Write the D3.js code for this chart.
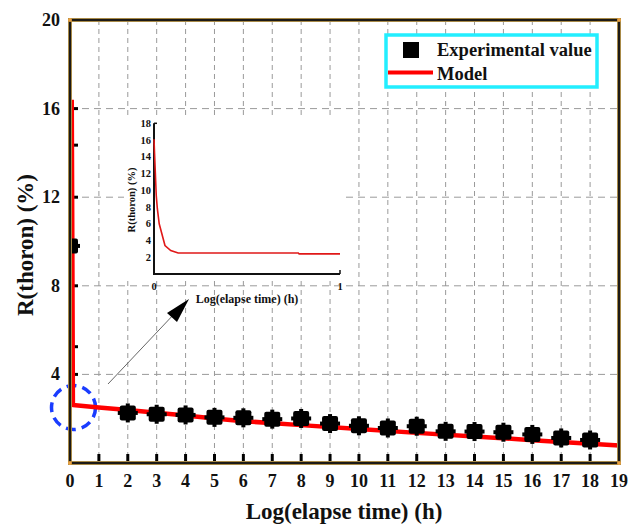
<!DOCTYPE html>
<html>
<head>
<meta charset="utf-8">
<script src="https://cdn.jsdelivr.net/npm/d3@7"></script>
<style>
  body { margin: 0; background: #fff; }
</style>
</head>
<body>
<div id="chart"></div>
<script>
// main.js

const width = 638;
const height = 528;
const serif = "'Liberation Serif', 'Times New Roman', Times, 'DejaVu Serif', serif";

// experimental points
const expX = [0, 2, 3, 4, 5, 6, 7, 8, 9, 10, 11, 12, 13, 14, 15, 16, 17, 18];
const expY = [9.8, 2.26, 2.2, 2.17, 2.06, 2.04, 1.98, 2.01, 1.78, 1.68, 1.58, 1.66, 1.43, 1.42, 1.39, 1.29, 1.13, 1.04];

// model curve
const modelX = [0.06, 0.08, 0.1, 1, 2, 3, 4, 5, 6, 8, 10, 12, 14, 16, 18, 19];
const modelY = [16.4, 10, 2.62, 2.51, 2.39, 2.27, 2.14, 2.01, 1.89, 1.71, 1.53, 1.36, 1.2, 1.03, 0.87, 0.79];

// inset curve (zoom of 0..1)
const insetX = [0, 0.003, 0.012, 0.018, 0.028, 0.059, 0.09, 0.13, 0.776, 0.78, 1];
const insetY = [16.1, 14.4, 9.4, 7.8, 6.0, 3.4, 2.8, 2.5, 2.5, 2.4, 2.4];

const xTicks = d3.range(0, 20);
const yTicks = [4, 8, 12, 16, 20];
const yMinor = [5.25, 14.35];
const insetYTicks = [2, 4, 6, 8, 10, 12, 14, 16, 18];

const svg = d3.select("#chart").append("svg")
    .attr("width", width)
    .attr("height", height)
    .attr("font-family", serif)
    .attr("font-weight", "bold")
    .style("font-family", serif)
    .style("display", "block");

const x = d3.scaleLinear().domain([0, 19]).range([70, 619]);
const y = d3.scaleLinear().domain([0, 20]).range([463, 20]);

svg.append("defs").append("clipPath")
    .attr("id", "plot-clip")
    .append("rect")
    .attr("x", 70).attr("y", 20)
    .attr("width", 549).attr("height", 443);

// grid
svg.append("g")
    .selectAll("line")
    .data(xTicks.filter(d => d > 0))
    .join("line")
    .attr("x1", d => x(d)).attr("x2", d => x(d))
    .attr("y1", y(20)).attr("y2", y(0))
    .attr("stroke", "#9a9a9a")
    .attr("stroke-dasharray", "5,4");

svg.append("g")
    .selectAll("line")
    .data([4, 8, 12, 16])
    .join("line")
    .attr("x1", x(0)).attr("x2", x(19))
    .attr("y1", d => y(d)).attr("y2", d => y(d))
    .attr("stroke", "#9a9a9a")
    .attr("stroke-dasharray", "7,5");

// ticks inward
svg.append("g")
    .selectAll("line")
    .data(xTicks.filter(d => d > 0))
    .join("line")
    .attr("x1", d => x(d)).attr("x2", d => x(d))
    .attr("y1", y(0) - 9).attr("y2", y(0))
    .attr("stroke", "#000")
    .attr("stroke-width", 3);

svg.append("g")
    .selectAll("line")
    .data(yTicks.filter(d => d < 20).concat(yMinor))
    .join("line")
    .attr("x1", x(0)).attr("x2", x(0) + 8)
    .attr("y1", d => y(d)).attr("y2", d => y(d))
    .attr("stroke", "#000")
    .attr("stroke-width", 3);

// inset
const xi = d3.scaleLinear().domain([0, 1]).range([154, 340]);
const yi = d3.scaleLinear().domain([0, 18]).range([274, 123.3]);

const inset = svg.append("g").attr("id", "inset");

inset.append("rect")
    .attr("x", 124).attr("y", 116)
    .attr("width", 220).attr("height", 163)
    .attr("fill", "#fff");

inset.append("path")
    .attr("d", `M${xi(0)},${yi(18)}V${yi(0)}H${xi(1)}`)
    .attr("fill", "none")
    .attr("stroke", "#111")
    .attr("stroke-width", 2);

inset.append("line")
    .attr("x1", xi(1)).attr("x2", xi(1))
    .attr("y1", yi(0)).attr("y2", yi(0) - 4)
    .attr("stroke", "#111").attr("stroke-width", 1.5);

inset.append("line")
    .attr("x1", xi(0)).attr("x2", xi(0) + 3)
    .attr("y1", yi(18)).attr("y2", yi(18))
    .attr("stroke", "#111").attr("stroke-width", 1.5);

inset.append("g")
    .selectAll("text")
    .data(insetYTicks)
    .join("text")
    .attr("x", xi(0) - 3)
    .attr("y", d => yi(d) + 3.5)
    .attr("text-anchor", "end")
    .style("font-size", "10.5px")
    .text(d => d);

inset.append("g")
    .selectAll("text")
    .data([0, 1])
    .join("text")
    .attr("x", d => xi(d))
    .attr("y", 290)
    .attr("text-anchor", "middle")
    .style("font-size", "10.5px")
    .text(d => d);

inset.append("text")
    .attr("x", 247)
    .attr("y", 303)
    .attr("text-anchor", "middle")
    .style("font-size", "12px")
    .text("Log(elapse time) (h)");

inset.append("text")
    .attr("transform", "translate(135,200) rotate(-90)")
    .attr("text-anchor", "middle")
    .style("font-size", "10.5px")
    .text("R(thoron) (%)");

inset.append("path")
    .datum(insetX.map((d, i) => [d, insetY[i]]))
    .attr("d", d3.line().x(d => xi(d[0])).y(d => yi(d[1])))
    .attr("fill", "none")
    .attr("stroke", "#e01818")
    .attr("stroke-width", 1.6);

// arrow
svg.append("line")
    .attr("x1", 108).attr("y1", 384)
    .attr("x2", 176).attr("y2", 312)
    .attr("stroke", "#666")
    .attr("stroke-width", 1);

svg.append("path")
    .attr("d", "M189,299 L167,313 L177,322 Z")
    .attr("fill", "#000");

// blue dashed ellipse
svg.append("ellipse")
    .attr("cx", 73.5).attr("cy", 407.5)
    .attr("rx", 22).attr("ry", 22)
    .attr("fill", "none")
    .attr("stroke", "#1a3cff")
    .attr("stroke-width", 3.5)
    .attr("stroke-dasharray", "10,6");

// model line
svg.append("path")
    .datum(modelX.map((d, i) => [d, modelY[i]]))
    .attr("d", d3.line().x(d => x(d[0])).y(d => y(d[1])))
    .attr("fill", "none")
    .attr("stroke", "#ff0000")
    .attr("stroke-width", 4.5)
    .attr("stroke-linejoin", "round");

// experimental markers
const markers = svg.append("g")
    .attr("clip-path", "url(#plot-clip)")
    .selectAll("g")
    .data(expX.map((d, i) => [d, expY[i]]))
    .join("g")
    .attr("transform", d => `translate(${x(d[0])},${y(d[1])})`);

markers.append("rect")
    .attr("x", -8).attr("y", -7.5)
    .attr("width", 16).attr("height", 15)
    .attr("rx", 2)
    .attr("fill", "#000");

markers.append("rect")
    .attr("x", -2).attr("y", -9.5)
    .attr("width", 4).attr("height", 19)
    .attr("fill", "#000");

markers.append("rect")
    .attr("x", -10).attr("y", -2)
    .attr("width", 20).attr("height", 4)
    .attr("fill", "#000");

// frame
svg.append("rect")
    .attr("x", 70).attr("y", 20)
    .attr("width", 549).attr("height", 443)
    .attr("fill", "none")
    .attr("stroke", "#a88a48")
    .attr("stroke-width", 4);

svg.append("rect")
    .attr("x", 70).attr("y", 20)
    .attr("width", 549).attr("height", 443)
    .attr("fill", "none")
    .attr("stroke", "#1c1a16")
    .attr("stroke-width", 2);

svg.append("g")
    .selectAll("circle")
    .data([[0, 20], [19, 20], [0, 0], [19, 0]])
    .join("circle")
    .attr("cx", d => x(d[0])).attr("cy", d => y(d[1]))
    .attr("r", 2)
    .attr("fill", "#e8a040");

// tick labels
svg.append("g")
    .selectAll("text")
    .data(xTicks)
    .join("text")
    .attr("x", d => x(d))
    .attr("y", 487)
    .attr("text-anchor", "middle")
    .style("font-size", "18px")
    .text(d => d);

svg.append("g")
    .selectAll("text")
    .data(yTicks)
    .join("text")
    .attr("x", 60)
    .attr("y", d => y(d) + 6)
    .attr("text-anchor", "end")
    .style("font-size", "18px")
    .text(d => d);

// axis titles
svg.append("text")
    .attr("x", 344)
    .attr("y", 519)
    .attr("text-anchor", "middle")
    .style("font-size", "23px")
    .text("Log(elapse time) (h)");

svg.append("text")
    .attr("transform", "translate(33,245) rotate(-90)")
    .attr("text-anchor", "middle")
    .style("font-size", "23px")
    .text("R(thoron) (%)");

// legend
const legend = svg.append("g").attr("id", "legend");

legend.append("rect")
    .attr("x", 386).attr("y", 35)
    .attr("width", 211).attr("height", 52)
    .attr("fill", "#fff")
    .attr("stroke", "#22eeff")
    .attr("stroke-width", 3.5);

legend.append("rect")
    .attr("x", 403).attr("y", 42)
    .attr("width", 16).attr("height", 16)
    .attr("fill", "#000");

legend.append("line")
    .attr("x1", 388).attr("x2", 433)
    .attr("y1", 72.5).attr("y2", 72.5)
    .attr("stroke", "#ff0000")
    .attr("stroke-width", 4);

legend.append("text")
    .attr("x", 437).attr("y", 56)
    .style("font-size", "18.5px")
    .text("Experimental value");

legend.append("text")
    .attr("x", 437).attr("y", 80)
    .style("font-size", "18.5px")
    .text("Model");

svg.selectAll("text").attr("fill", "#111");
</script>
</body>
</html>
